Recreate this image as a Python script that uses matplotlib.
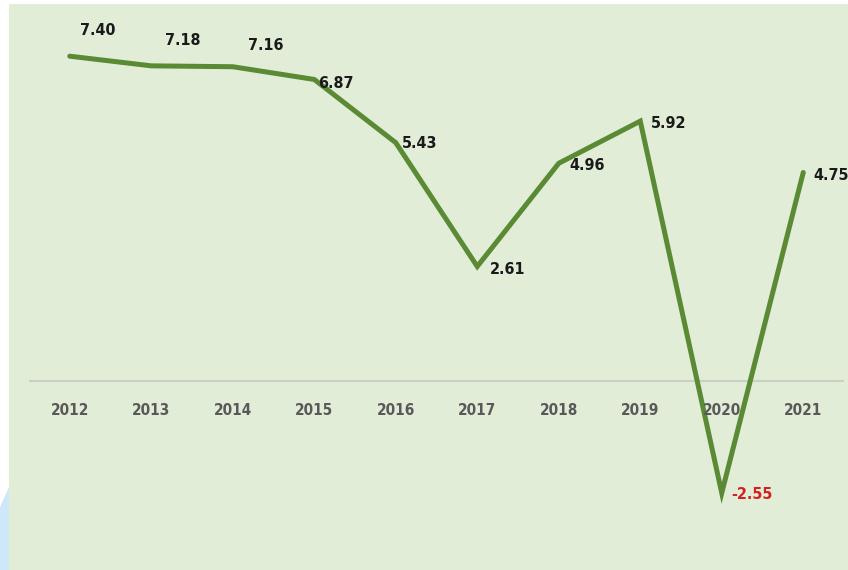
import matplotlib.pyplot as plt
from matplotlib.patches import Rectangle, Polygon

# Data
years = ["2012", "2013", "2014", "2015", "2016", "2017", "2018", "2019", "2020", "2021"]
growth = [7.40, 7.18, 7.16, 6.87, 5.43, 2.61, 4.96, 5.92, -2.55, 4.75]

# Label offsets in pixels (dx, dy) from each point
label_offsets = [(28, 26), (31, 25), (33, 21), (22, -4), (24, -1),
                 (30, -3), (28, -2), (28, -2), (30, -2), (28, -3)]

W, H = 848, 570
fig = plt.figure(figsize=(W / 100, H / 100), dpi=100)
fig.patch.set_facecolor("white")

# decorative light blue wedge bottom-left and the pale green panel
fig.patches.append(Polygon([(0, 1 - 507 / H), (9 / W, 1 - 487 / H), (9 / W, 0), (0, 0)],
                           closed=True, transform=fig.transFigure,
                           facecolor="#cfe7fb", edgecolor="none", zorder=-1))
fig.patches.append(Rectangle((9 / W, 0), 1 - 9 / W, 1 - 4 / H, transform=fig.transFigure,
                             facecolor="#e2edd8", edgecolor="none", zorder=-1))

ax = fig.add_axes([29 / W, 0, 815 / W, 1])
ax.set_zorder(1)
ax.set_facecolor("none")
ax.set_xlim(-0.5, len(years) - 0.5)
ax.set_ylim(-4.305, 8.68)
ax.axis("off")

font = ["DejaVu Sans"]

ax.axhline(0, color="#c9d1c3", linewidth=1.5, zorder=1)

x = list(range(len(years)))
ax.plot(x, growth, color="#5a8a34", linewidth=3.6, solid_capstyle="round",
        solid_joinstyle="miter", zorder=2)

for i, (v, (dx, dy)) in enumerate(zip(growth, label_offsets)):
    ax.annotate(f"{v:.2f}", (i, v), xytext=(dx, dy), textcoords="offset pixels",
                ha="center", va="center", fontsize=11.5, fontweight="bold",
                fontstretch="condensed", family=font,
                color="#d62020" if v < 0 else "#1a1a1a", zorder=3)

for i, yr in enumerate(years):
    ax.annotate(yr, (i, 0), xytext=(0, -29), textcoords="offset pixels",
                ha="center", va="center", fontsize=11, fontweight="bold",
                fontstretch="condensed", family=font, color="#595959", zorder=3)

fig.savefig("out.png", dpi=100)
